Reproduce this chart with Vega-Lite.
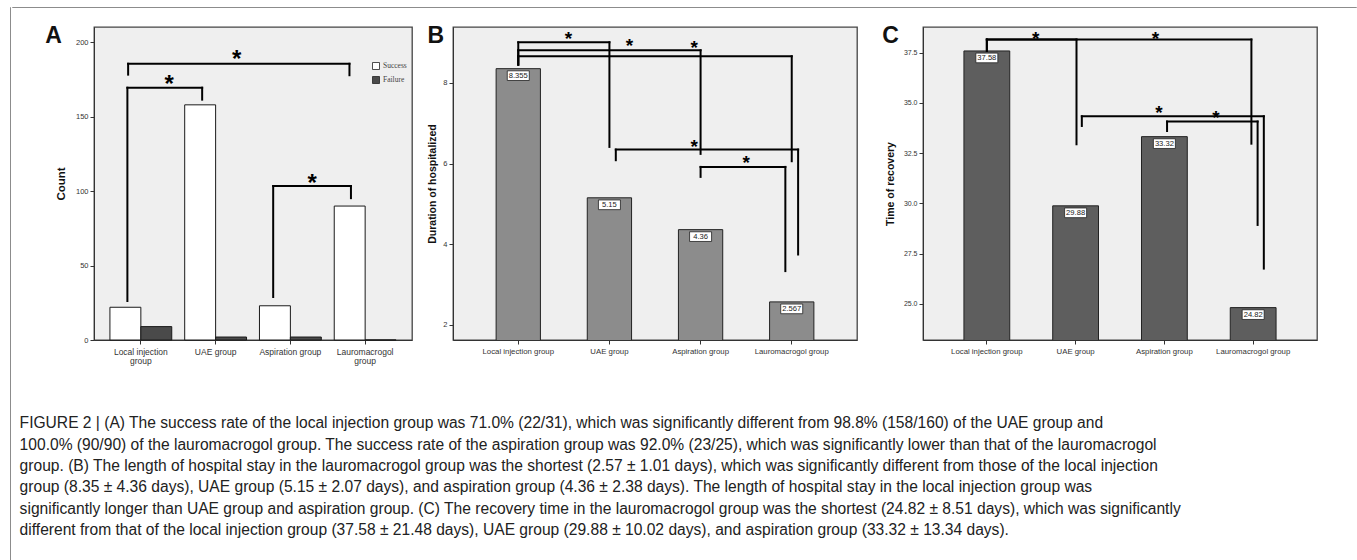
{
  "$schema": "https://vega.github.io/schema/vega-lite/v6.json",
  "padding": {"left": 9, "top": 6, "right": 0, "bottom": 0},
  "background": "white",
  "datasets": {
    "countA": [
      {"group": "Local injection group", "outcome": "Success", "count": 22},
      {"group": "Local injection group", "outcome": "Failure", "count": 9},
      {"group": "UAE group", "outcome": "Success", "count": 158},
      {"group": "UAE group", "outcome": "Failure", "count": 2},
      {"group": "Aspiration group", "outcome": "Success", "count": 23},
      {"group": "Aspiration group", "outcome": "Failure", "count": 2},
      {"group": "Lauromacrogol group", "outcome": "Success", "count": 90},
      {"group": "Lauromacrogol group", "outcome": "Failure", "count": 0}
    ],
    "bracketsA": [
      {"xl": -0.17, "xr": 2.79, "yh": 185.6, "yl": 178.3, "yr": 177.9},
      {"xl": -0.18, "xr": 0.82, "yh": 169.5, "yl": 26.2, "yr": 161.5},
      {"xl": 1.77, "xr": 2.81, "yh": 103.4, "yl": 28.9, "yr": 95.3}
    ],
    "starsA": [
      {"xs": 1.28, "ys": 192.8},
      {"xs": 0.38, "ys": 175.8},
      {"xs": 2.29, "ys": 109.4}
    ],
    "hospB": [
      {"group": "Local injection group", "days": 8.355, "label": "8.355"},
      {"group": "UAE group", "days": 5.15, "label": "5.15"},
      {"group": "Aspiration group", "days": 4.36, "label": "4.36"},
      {"group": "Lauromacrogol group", "days": 2.567, "label": "2.567"}
    ],
    "bracketsB": [
      {"xl": 0, "xr": 1.0, "yh": 9.009, "yl": 8.454, "yr": 6.413},
      {"xl": 0, "xr": 2.0, "yh": 8.811, "yl": 8.454, "yr": 6.24},
      {"xl": 0, "xr": 3.0, "yh": 8.662, "yl": 8.454, "yr": 6.058},
      {"xl": 1.07, "xr": 3.07, "yh": 6.346, "yl": 6.083, "yr": 3.743},
      {"xl": 2.0, "xr": 2.93, "yh": 5.917, "yl": 5.669, "yr": 3.331}
    ],
    "starsB": [
      {"xs": 0.55, "ys": 9.21},
      {"xs": 1.22, "ys": 9.03},
      {"xs": 1.93, "ys": 8.98},
      {"xs": 1.93, "ys": 6.54},
      {"xs": 2.5, "ys": 6.13}
    ],
    "recC": [
      {"group": "Local injection group", "days": 37.58, "label": "37.58"},
      {"group": "UAE group", "days": 29.88, "label": "29.88"},
      {"group": "Aspiration group", "days": 33.32, "label": "33.32"},
      {"group": "Lauromacrogol group", "days": 24.82, "label": "24.82"}
    ],
    "bracketsC": [
      {"xl": 0, "xr": 1.01, "yh": 38.146, "yl": 37.58, "yr": 32.94},
      {"xl": 0, "xr": 2.98, "yh": 38.146, "yl": 37.58, "yr": 32.97},
      {"xl": 1.07, "xr": 3.12, "yh": 34.33, "yl": 33.85, "yr": 26.76},
      {"xl": 2.03, "xr": 3.05, "yh": 34.07, "yl": 33.6, "yr": 28.93}
    ],
    "starsC": [
      {"xs": 0.55, "ys": 38.41},
      {"xs": 1.9, "ys": 38.41},
      {"xs": 1.94, "ys": 34.74},
      {"xs": 2.58, "ys": 34.49}
    ]
  },
  "spacing": 0,
  "hconcat": [
    {"width": 0.01, "height": 554, "data": {"values": []}, "mark": {"type": "rule"}, "encoding": {}, "view": {"stroke": "#8c8c8c", "fill": null, "strokeWidth": 1}},
    {
      "spacing": 16,
      "vconcat": [
        {"width": 1344, "height": 0.01, "data": {"values": []}, "mark": {"type": "rule"}, "encoding": {}, "view": {"stroke": "#8c8c8c", "fill": null, "strokeWidth": 1}},
        {
          "spacing": 6,
          "hconcat": [
            {"width": 0.01, "height": 0.01, "data": {"values": []}, "mark": {"type": "rule"}, "encoding": {}, "view": {"stroke": null, "fill": null}},
            {
              "title": {
                "text": [
                  "FIGURE 2 | (A) The success rate of the local injection group was 71.0% (22/31), which was significantly different from 98.8% (158/160) of the UAE group and",
                  "100.0% (90/90) of the lauromacrogol group. The success rate of the aspiration group was 92.0% (23/25), which was significantly lower than that of the lauromacrogol",
                  "group. (B) The length of hospital stay in the lauromacrogol group was the shortest (2.57 ± 1.01 days), which was significantly different from those of the local injection",
                  "group (8.35 ± 4.36 days), UAE group (5.15 ± 2.07 days), and aspiration group (4.36 ± 2.38 days). The length of hospital stay in the local injection group was",
                  "significantly longer than UAE group and aspiration group. (C) The recovery time in the lauromacrogol group was the shortest (24.82 ± 8.51 days), which was significantly",
                  "different from that of the local injection group (37.58 ± 21.48 days), UAE group (29.88 ± 10.02 days), and aspiration group (33.32 ± 13.34 days)."
                ],
                "orient": "bottom",
                "anchor": "start",
                "font": "Liberation Sans",
                "fontSize": 15.6,
                "fontWeight": "normal",
                "color": "#222222",
                "lineHeight": 21.4,
                "offset": 51,
                "dx": -25
              },
              "spacing": 23,
              "hconcat": [
                {
                  "spacing": 13,
                  "hconcat": [
                    {
                      "width": 318,
                      "height": 313,
                      "title": {"text": "A", "orient": "left", "angle": 0, "anchor": "end", "fontSize": 23, "fontWeight": "bold", "font": "Liberation Sans", "color": "#111111", "offset": -23, "dy": -2, "baseline": "top"},
                      "layer": [
                        {
                          "data": {"name": "countA"},
                          "mark": {"type": "bar", "stroke": "#1a1a1a", "strokeWidth": 1},
                          "encoding": {
                            "x": {"field": "group", "type": "nominal", "sort": ["Local injection group", "UAE group", "Aspiration group", "Lauromacrogol group"], "scale": {"type": "band", "paddingInner": 0.173, "paddingOuter": 0.213},
                              "axis": {"title": null, "labelAngle": 0, "labelFontSize": 8.5, "labelLineHeight": 9, "labelPadding": 3,
                                "labelExpr": "datum.value == 'Local injection group' ? ['Local injection', 'group'] : datum.value == 'Lauromacrogol group' ? ['Lauromacrogol', 'group'] : datum.value"}},
                            "xOffset": {"field": "outcome", "type": "nominal", "sort": ["Success", "Failure"], "scale": {"paddingInner": 0, "paddingOuter": 0}},
                            "y": {"field": "count", "type": "quantitative", "scale": {"domain": [0, 210.3], "nice": false}, "axis": {"title": "Count", "values": [0, 50, 100, 150, 200], "titleFontSize": 11.5, "titlePadding": 9}},
                            "fill": {"field": "outcome", "type": "nominal", "scale": {"domain": ["Success", "Failure"], "range": ["#ffffff", "#4a4a4a"]},
                              "legend": {"title": null, "orient": "none", "legendX": 362, "legendY": 55, "symbolType": "square", "symbolSize": 49, "symbolStrokeColor": "#222222", "symbolStrokeWidth": 0.8, "labelFont": "Liberation Serif", "labelFontSize": 7.5, "labelColor": "#444444", "rowPadding": 2, "labelOffset": 3, "padding": 0}}
                          }
                        },
                        {
                          "layer": [
                            {"data": {"name": "bracketsA"}, "mark": {"type": "rule", "strokeWidth": 2, "color": "#000000", "strokeCap": "square"},
                              "encoding": {"x": {"field": "xl", "type": "quantitative", "scale": {"domain": [-0.6265, 3.6265], "nice": false, "zero": false}, "axis": null}, "x2": {"field": "xr"},
                                "y": {"field": "yh", "type": "quantitative", "scale": {"domain": [0, 210.3], "nice": false, "zero": false}, "axis": null}}},
                            {"data": {"name": "bracketsA"}, "mark": {"type": "rule", "strokeWidth": 2, "color": "#000000", "strokeCap": "square"},
                              "encoding": {"x": {"field": "xl", "type": "quantitative", "scale": {"domain": [-0.6265, 3.6265], "nice": false, "zero": false}, "axis": null},
                                "y": {"field": "yh", "type": "quantitative", "scale": {"domain": [0, 210.3], "nice": false, "zero": false}, "axis": null}, "y2": {"field": "yl"}}},
                            {"data": {"name": "bracketsA"}, "mark": {"type": "rule", "strokeWidth": 2, "color": "#000000", "strokeCap": "square"},
                              "encoding": {"x": {"field": "xr", "type": "quantitative", "scale": {"domain": [-0.6265, 3.6265], "nice": false, "zero": false}, "axis": null},
                                "y": {"field": "yh", "type": "quantitative", "scale": {"domain": [0, 210.3], "nice": false, "zero": false}, "axis": null}, "y2": {"field": "yr"}}},
                            {"data": {"name": "starsA"}, "mark": {"type": "text", "text": "*", "fontSize": 24, "fontWeight": "bold", "baseline": "alphabetic", "dy": 13.5, "color": "#000000"},
                              "encoding": {"x": {"field": "xs", "type": "quantitative", "scale": {"domain": [-0.6265, 3.6265], "nice": false, "zero": false}, "axis": null},
                                "y": {"field": "ys", "type": "quantitative", "scale": {"domain": [0, 210.3], "nice": false, "zero": false}, "axis": null}}}
                          ]
                        }
                      ],
                      "resolve": {"scale": {"x": "independent", "y": "independent"}}
                    },
                    {
                      "width": 404,
                      "height": 313,
                      "title": {"text": "B", "orient": "left", "angle": 0, "anchor": "end", "fontSize": 23, "fontWeight": "bold", "font": "Liberation Sans", "color": "#111111", "offset": -33, "dy": -2, "baseline": "top"},
                      "layer": [
                        {
                          "data": {"name": "hospB"},
                          "encoding": {
                            "x": {"field": "group", "type": "nominal", "sort": ["Local injection group", "UAE group", "Aspiration group", "Lauromacrogol group"], "scale": {"type": "band", "paddingInner": 0.514, "paddingOuter": 0.473},
                              "axis": {"title": null, "labelAngle": 0, "labelFontSize": 7.8, "labelPadding": 3}},
                            "y": {"field": "days", "type": "quantitative", "scale": {"domain": [1.621, 9.389], "nice": false, "zero": false}, "axis": {"title": "Duration of hospitalized", "values": [2, 4, 6, 8], "titlePadding": 5}}
                          },
                          "layer": [
                            {"mark": {"type": "bar", "fill": "#8c8c8c", "stroke": "#222222", "strokeWidth": 1, "clip": true}},
                            {"mark": {"type": "point", "shape": "M-1,-0.44H1V0.44H-1Z", "size": 484, "filled": true, "fill": "#ffffff", "stroke": "#222222", "strokeWidth": 0.8, "opacity": 1, "yOffset": 7}},
                            {"mark": {"type": "text", "fontSize": 7.6, "baseline": "middle", "yOffset": 7, "fill": "#222222"}, "encoding": {"text": {"field": "label"}}}
                          ]
                        },
                        {
                          "layer": [
                            {"data": {"name": "bracketsB"}, "mark": {"type": "rule", "strokeWidth": 2, "color": "#000000", "strokeCap": "square"},
                              "encoding": {"x": {"field": "xl", "type": "quantitative", "scale": {"domain": [-0.716, 3.716], "nice": false, "zero": false}, "axis": null}, "x2": {"field": "xr"},
                                "y": {"field": "yh", "type": "quantitative", "scale": {"domain": [1.621, 9.389], "nice": false, "zero": false}, "axis": null}}},
                            {"data": {"name": "bracketsB"}, "mark": {"type": "rule", "strokeWidth": 2, "color": "#000000", "strokeCap": "square"},
                              "encoding": {"x": {"field": "xl", "type": "quantitative", "scale": {"domain": [-0.716, 3.716], "nice": false, "zero": false}, "axis": null},
                                "y": {"field": "yh", "type": "quantitative", "scale": {"domain": [1.621, 9.389], "nice": false, "zero": false}, "axis": null}, "y2": {"field": "yl"}}},
                            {"data": {"name": "bracketsB"}, "mark": {"type": "rule", "strokeWidth": 2, "color": "#000000", "strokeCap": "square"},
                              "encoding": {"x": {"field": "xr", "type": "quantitative", "scale": {"domain": [-0.716, 3.716], "nice": false, "zero": false}, "axis": null},
                                "y": {"field": "yh", "type": "quantitative", "scale": {"domain": [1.621, 9.389], "nice": false, "zero": false}, "axis": null}, "y2": {"field": "yr"}}},
                            {"data": {"name": "starsB"}, "mark": {"type": "text", "text": "*", "fontSize": 19, "fontWeight": "bold", "baseline": "alphabetic", "dy": 10.8, "color": "#000000"},
                              "encoding": {"x": {"field": "xs", "type": "quantitative", "scale": {"domain": [-0.716, 3.716], "nice": false, "zero": false}, "axis": null},
                                "y": {"field": "ys", "type": "quantitative", "scale": {"domain": [1.621, 9.389], "nice": false, "zero": false}, "axis": null}}}
                          ]
                        }
                      ],
                      "resolve": {"scale": {"x": "independent", "y": "independent"}}
                    }
                  ]
                },
                {
                  "width": 394,
                  "height": 313,
                  "title": {"text": "C", "orient": "left", "angle": 0, "anchor": "end", "fontSize": 23, "fontWeight": "bold", "font": "Liberation Sans", "color": "#111111", "offset": -30, "dy": -2, "baseline": "top"},
                  "layer": [
                    {
                      "data": {"name": "recC"},
                      "encoding": {
                        "x": {"field": "group", "type": "nominal", "sort": ["Local injection group", "UAE group", "Aspiration group", "Lauromacrogol group"], "scale": {"type": "band", "paddingInner": 0.484, "paddingOuter": 0.461},
                          "axis": {"title": null, "labelAngle": 0, "labelFontSize": 7.8, "labelPadding": 3}},
                        "y": {"field": "days", "type": "quantitative", "scale": {"domain": [23.21, 38.77], "nice": false, "zero": false}, "axis": {"title": "Time of recovery", "values": [25, 27.5, 30, 32.5, 35, 37.5], "format": ".1f", "labelFontSize": 7, "titlePadding": 8}}
                      },
                      "layer": [
                        {"mark": {"type": "bar", "fill": "#5e5e5e", "stroke": "#222222", "strokeWidth": 1, "clip": true}},
                        {"mark": {"type": "point", "shape": "M-1,-0.44H1V0.44H-1Z", "size": 484, "filled": true, "fill": "#ffffff", "stroke": "#222222", "strokeWidth": 0.8, "opacity": 1, "yOffset": 7}},
                        {"mark": {"type": "text", "fontSize": 7.6, "baseline": "middle", "yOffset": 7, "fill": "#222222"}, "encoding": {"text": {"field": "label"}}}
                      ]
                    },
                    {
                      "layer": [
                        {"data": {"name": "bracketsC"}, "mark": {"type": "rule", "strokeWidth": 2, "color": "#000000", "strokeCap": "square"},
                          "encoding": {"x": {"field": "xl", "type": "quantitative", "scale": {"domain": [-0.719, 3.719], "nice": false, "zero": false}, "axis": null}, "x2": {"field": "xr"},
                            "y": {"field": "yh", "type": "quantitative", "scale": {"domain": [23.21, 38.77], "nice": false, "zero": false}, "axis": null}}},
                        {"data": {"name": "bracketsC"}, "mark": {"type": "rule", "strokeWidth": 2, "color": "#000000", "strokeCap": "square"},
                          "encoding": {"x": {"field": "xl", "type": "quantitative", "scale": {"domain": [-0.719, 3.719], "nice": false, "zero": false}, "axis": null},
                            "y": {"field": "yh", "type": "quantitative", "scale": {"domain": [23.21, 38.77], "nice": false, "zero": false}, "axis": null}, "y2": {"field": "yl"}}},
                        {"data": {"name": "bracketsC"}, "mark": {"type": "rule", "strokeWidth": 2, "color": "#000000", "strokeCap": "square"},
                          "encoding": {"x": {"field": "xr", "type": "quantitative", "scale": {"domain": [-0.719, 3.719], "nice": false, "zero": false}, "axis": null},
                            "y": {"field": "yh", "type": "quantitative", "scale": {"domain": [23.21, 38.77], "nice": false, "zero": false}, "axis": null}, "y2": {"field": "yr"}}},
                        {"data": {"name": "starsC"}, "mark": {"type": "text", "text": "*", "fontSize": 19, "fontWeight": "bold", "baseline": "alphabetic", "dy": 10.8, "color": "#000000"},
                          "encoding": {"x": {"field": "xs", "type": "quantitative", "scale": {"domain": [-0.719, 3.719], "nice": false, "zero": false}, "axis": null},
                            "y": {"field": "ys", "type": "quantitative", "scale": {"domain": [23.21, 38.77], "nice": false, "zero": false}, "axis": null}}}
                      ]
                    }
                  ],
                  "resolve": {"scale": {"x": "independent", "y": "independent"}}
                }
              ]
            }
          ]
        }
      ]
    },
    {"width": 0.01, "height": 554, "data": {"values": []}, "mark": {"type": "rule"}, "encoding": {}, "view": {"stroke": "#8c8c8c", "fill": null, "strokeWidth": 1}}
  ],
  "config": {
    "font": "Liberation Sans",
    "view": {"fill": "#efefef", "stroke": "#444444", "strokeWidth": 1.3},
    "axis": {"labelFont": "Liberation Sans", "labelFontSize": 7.5, "labelColor": "#333333", "tickColor": "#333333", "domainColor": "#333333", "domainWidth": 1, "tickSize": 4, "tickWidth": 1, "titleFont": "Liberation Sans", "titleFontWeight": "bold", "titleFontSize": 10.5, "titleColor": "#111111", "grid": false, "labelPadding": 2}
  }
}
